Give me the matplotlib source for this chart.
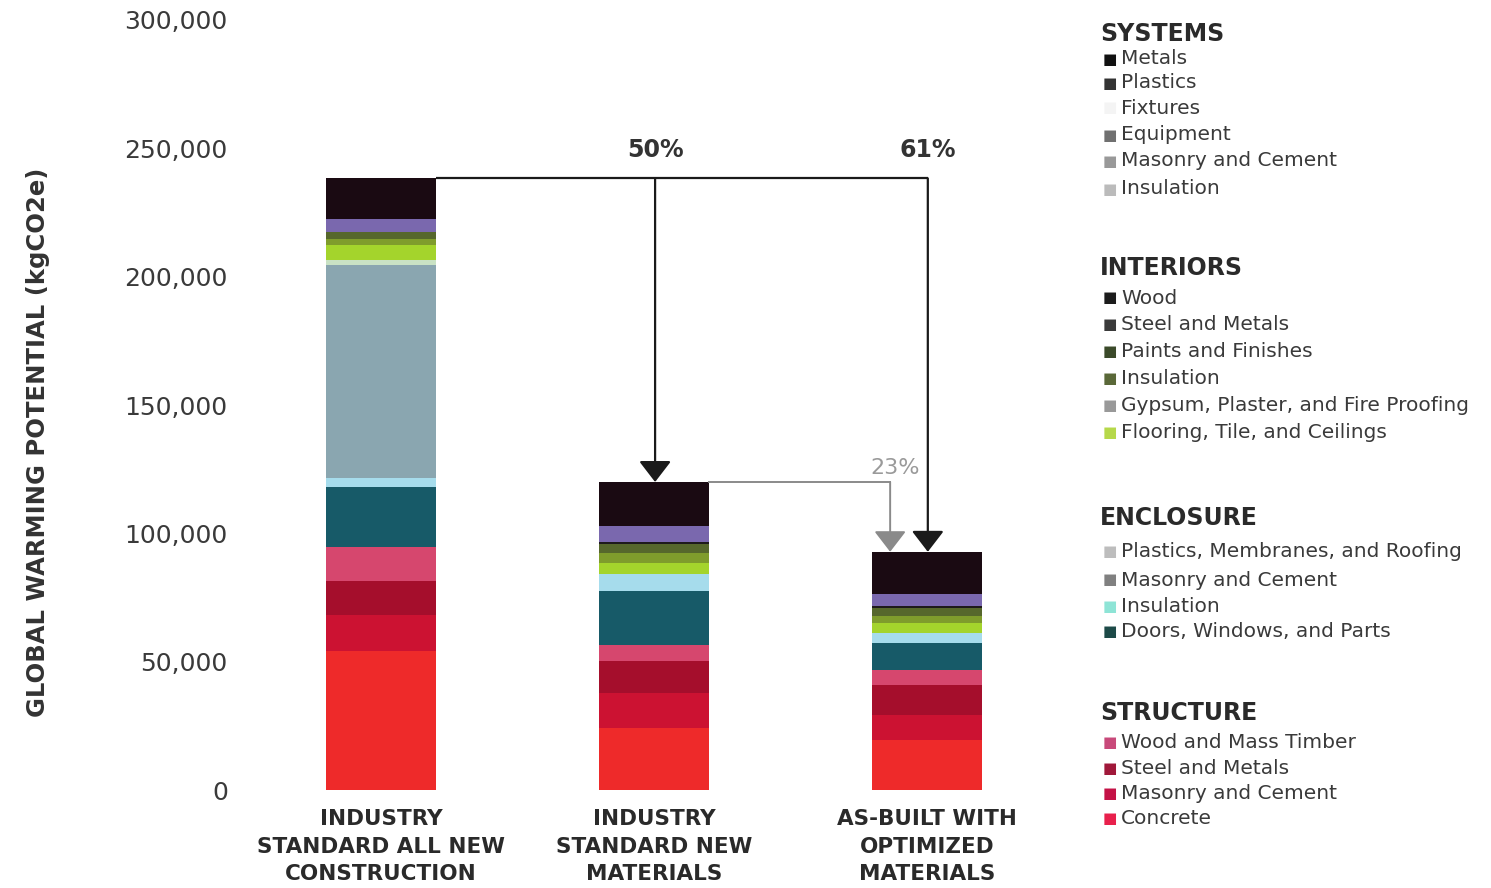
import numpy as np
import matplotlib.pyplot as plt

# embodied carbon per material group, kgCO2e, one value per scenario
categories = ["INDUSTRY\nSTANDARD ALL NEW\nCONSTRUCTION",
              "INDUSTRY\nSTANDARD NEW\nMATERIALS",
              "AS-BUILT WITH\nOPTIMIZED\nMATERIALS"]

structure_concrete = [54000, 24300, 19400]
structure_masonry = [14000, 13600, 9700]
structure_steel = [13600, 12500, 11700]
structure_wood = [12900, 5900, 5850]
enclosure_doors = [23400, 21400, 10500]
enclosure_insulation = [3500, 6600, 3900]
enclosure_masonry = [83000, 0, 0]
enclosure_plastics = [2000, 0, 0]
interiors_flooring = [5900, 4300, 3900]
interiors_insulation = [2500, 3700, 2900]
interiors_paints = [2500, 3700, 2950]
interiors_wood = [0, 800, 800]
systems_insulation = [5000, 6200, 4700]
systems_metals = [16000, 17000, 16500]

y_ticks = [0, 50000, 100000, 150000, 200000, 250000, 300000]

# bottom-to-top stacking order with fill colours
stack = [
    (structure_concrete, "#ee2a2a"),
    (structure_masonry, "#cc1232"),
    (structure_steel, "#a50e2c"),
    (structure_wood, "#d6476e"),
    (enclosure_doors, "#175a68"),
    (enclosure_insulation, "#a6dcec"),
    (enclosure_masonry, "#8aa6b0"),
    (enclosure_plastics, "#c9e2c4"),
    (interiors_flooring, "#a4d42c"),
    (interiors_insulation, "#7f9c2c"),
    (interiors_paints, "#56672c"),
    (interiors_wood, "#1e1a1c"),
    (systems_insulation, "#7a68ae"),
    (systems_metals, "#1a0a12"),
]

legend_groups = [
    ("SYSTEMS", 34, [("Metals", "#111111", 59), ("Plastics", "#333333", 83),
                     ("Fixtures", "#f4f4f4", 108), ("Equipment", "#707070", 135),
                     ("Masonry and Cement", "#999999", 161), ("Insulation", "#bbbbbb", 189)]),
    ("INTERIORS", 268, [("Wood", "#1c1c1c", 298), ("Steel and Metals", "#3a3a3a", 324),
                        ("Paints and Finishes", "#3b4a2a", 351), ("Insulation", "#5a6838", 378),
                        ("Gypsum, Plaster, and Fire Proofing", "#999999", 405),
                        ("Flooring, Tile, and Ceilings", "#b6d84a", 432)]),
    ("ENCLOSURE", 518, [("Plastics, Membranes, and Roofing", "#bdbdbd", 551),
                        ("Masonry and Cement", "#808080", 580),
                        ("Insulation", "#8ee4d6", 606),
                        ("Doors, Windows, and Parts", "#1d4a48", 631)]),
    ("STRUCTURE", 713, [("Wood and Mass Timber", "#c8497a", 742),
                        ("Steel and Metals", "#a0183a", 768),
                        ("Masonry and Cement", "#c41246", 793),
                        ("Concrete", "#e8204c", 818)]),
]

W, H = 1491, 888

fig = plt.figure(figsize=(W / 100, H / 100), dpi=100)
ax = fig.add_axes([244.5 / W, 98 / H, 819 / W, 770 / H])

x = np.arange(len(categories))
bottom = np.zeros(len(categories))
for vals, col in stack:
    ax.bar(x, vals, 0.4, bottom=bottom, color=col, linewidth=0)
    bottom += np.array(vals)
totals = bottom

ax.set_xlim(-0.5, 2.5)
ax.set_ylim(0, 300000)
for s in ax.spines.values():
    s.set_visible(False)
ax.set_yticks(y_ticks)
ax.set_yticklabels([f"{v:,}" for v in y_ticks], fontsize=18, color="#3a3a3a")
ax.set_xticks(x)
ax.set_xticklabels(categories, fontsize=15.5, fontweight="bold", color="#2a2a2a",
                   linespacing=1.45, va="top")
ax.tick_params(axis="y", length=0, pad=12)
ax.tick_params(axis="x", length=0, pad=14)

fig.text(38 / W, 1 - 442 / H, "GLOBAL WARMING POTENTIAL (kgCO2e)", rotation=90,
         ha="center", va="center", fontsize=17.5, fontweight="bold", color="#333333")

# reduction arrows from the baseline
x_mid, x_right, x_grey = 1.004, 2.003, 1.865
ax.plot([0.2, x_right], [totals[0], totals[0]], color="#1a1a1a", lw=1.6,
        solid_capstyle="butt")
head = dict(arrowstyle="-|>,head_length=0.65,head_width=0.5", mutation_scale=20,
            color="#1a1a1a", lw=1.6, shrinkA=0, shrinkB=0)
ax.annotate("", xy=(x_mid, totals[1]), xytext=(x_mid, totals[0]), arrowprops=head)
ax.annotate("", xy=(x_right, totals[2]), xytext=(x_right, totals[0]), arrowprops=head)

ax.plot([1.2, x_grey], [totals[1], totals[1]], color="#8a8a8a", lw=1.4)
grey_head = dict(head, color="#8a8a8a", lw=1.4)
ax.annotate("", xy=(x_grey, totals[2]), xytext=(x_grey, totals[1]), arrowprops=grey_head)

pct_mid = round(100 * (1 - totals[1] / totals[0]))
pct_right = round(100 * (1 - totals[2] / totals[0]))
pct_grey = round(100 * (1 - totals[2] / totals[1]))
ax.text(x_mid, 249500, f"{pct_mid}%", ha="center", va="center", fontsize=17,
        fontweight="bold", color="#333333")
ax.text(x_right, 249500, f"{pct_right}%", ha="center", va="center", fontsize=17,
        fontweight="bold", color="#333333")
ax.text(x_grey + 0.02, 125500, f"{pct_grey}%", ha="center", va="center", fontsize=16,
        color="#9a9a9a")

# grouped legend on the right
for title, ty, items in legend_groups:
    fig.text(1100 / W, 1 - ty / H, title, ha="left", va="center", fontsize=17,
             fontweight="bold", color="#2a2a2a")
    for label, col, iy in items:
        fig.text(1103 / W, 1 - iy / H, "■", ha="left", va="center", fontsize=11,
                 color=col)
        fig.text(1121 / W, 1 - iy / H, label, ha="left", va="center", fontsize=14.5,
                 color="#3a3a3a")

fig.savefig("out.png", dpi=100)
